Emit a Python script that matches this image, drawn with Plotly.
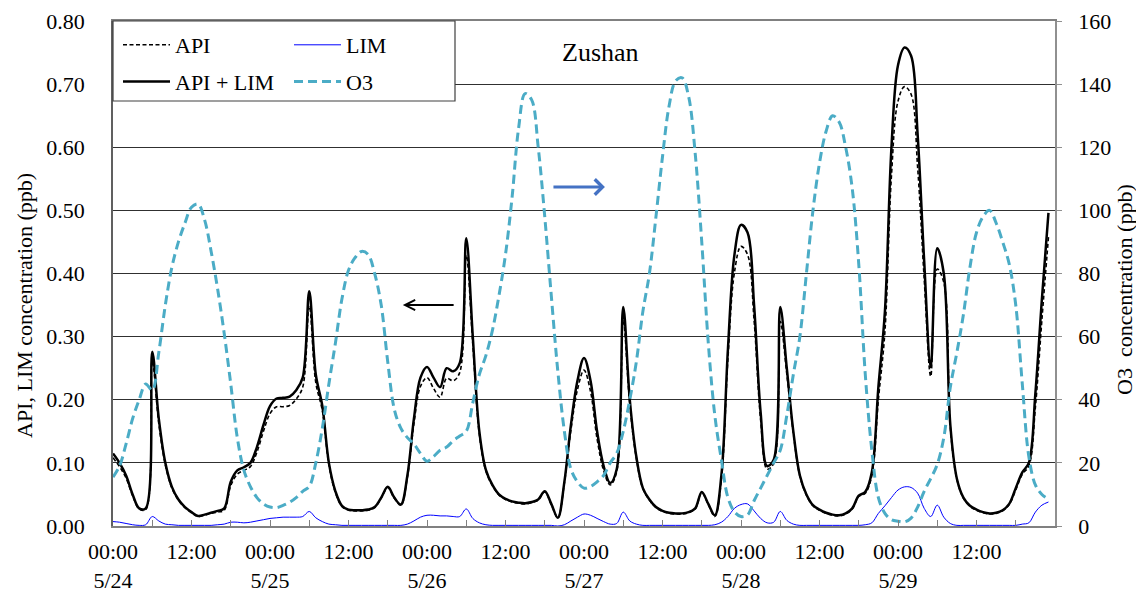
import plotly.graph_objects as go

# hours since 5/24 00:00 (hourly samples)
HOURS = list(range(144))

API_LIM = [0.115, 0.100, 0.080, 0.050, 0.028, 0.028, 0.276, 0.170, 0.100, 0.062,
           0.042, 0.030, 0.022, 0.016, 0.018, 0.021, 0.024, 0.028, 0.070, 0.088,
           0.093, 0.100, 0.125, 0.160, 0.190, 0.202, 0.203, 0.205, 0.215, 0.235,
           0.372, 0.240, 0.190, 0.100, 0.055, 0.032, 0.026, 0.025, 0.025, 0.026,
           0.030, 0.045, 0.062, 0.045, 0.034, 0.080, 0.170, 0.235, 0.252, 0.235,
           0.220, 0.250, 0.245, 0.258, 0.456, 0.300, 0.150, 0.089, 0.065, 0.050,
           0.043, 0.039, 0.037, 0.036, 0.038, 0.042, 0.055, 0.035, 0.013, 0.070,
           0.160, 0.230, 0.266, 0.230, 0.150, 0.095, 0.068, 0.090, 0.347, 0.200,
           0.110, 0.060, 0.042, 0.030, 0.024, 0.021, 0.020, 0.020, 0.022, 0.028,
           0.054, 0.035, 0.017, 0.080, 0.280, 0.430, 0.477, 0.465, 0.350, 0.180,
           0.095, 0.105, 0.347, 0.250, 0.150, 0.080, 0.050, 0.033, 0.026, 0.021,
           0.018, 0.017, 0.020, 0.028, 0.048, 0.054, 0.085, 0.220, 0.340, 0.600,
           0.730, 0.758, 0.745, 0.620, 0.420, 0.252, 0.440, 0.400, 0.160, 0.075,
           0.045, 0.032, 0.026, 0.022, 0.020, 0.021, 0.025, 0.035, 0.060, 0.085,
           0.100, 0.210, 0.360, 0.496]

API = [0.108, 0.094, 0.076, 0.048, 0.027, 0.026, 0.261, 0.162, 0.097, 0.060,
       0.041, 0.029, 0.021, 0.015, 0.017, 0.020, 0.022, 0.025, 0.064, 0.082,
       0.088, 0.094, 0.117, 0.150, 0.178, 0.189, 0.189, 0.191, 0.201, 0.220,
       0.349, 0.227, 0.183, 0.097, 0.053, 0.031, 0.025, 0.024, 0.024, 0.025,
       0.029, 0.044, 0.061, 0.044, 0.033, 0.077, 0.162, 0.221, 0.235, 0.218,
       0.204, 0.234, 0.230, 0.243, 0.429, 0.288, 0.145, 0.087, 0.064, 0.049,
       0.042, 0.038, 0.036, 0.035, 0.037, 0.041, 0.054, 0.034, 0.013, 0.068,
       0.152, 0.216, 0.247, 0.213, 0.138, 0.088, 0.065, 0.086, 0.325, 0.192,
       0.107, 0.059, 0.041, 0.029, 0.023, 0.020, 0.019, 0.019, 0.021, 0.027,
       0.053, 0.034, 0.015, 0.074, 0.265, 0.402, 0.443, 0.430, 0.326, 0.168,
       0.090, 0.099, 0.324, 0.241, 0.147, 0.079, 0.049, 0.032, 0.025, 0.020,
       0.017, 0.016, 0.019, 0.027, 0.047, 0.052, 0.080, 0.200, 0.308, 0.555,
       0.673, 0.696, 0.684, 0.568, 0.392, 0.237, 0.407, 0.386, 0.156, 0.074,
       0.044, 0.031, 0.025, 0.021, 0.019, 0.020, 0.024, 0.034, 0.057, 0.082,
       0.095, 0.188, 0.327, 0.458]

LIM = [0.007, 0.006, 0.004, 0.002, 0.001, 0.002, 0.015, 0.008, 0.003, 0.002,
       0.001, 0.001, 0.001, 0.001, 0.001, 0.001, 0.002, 0.003, 0.006, 0.006,
       0.005, 0.006, 0.008, 0.010, 0.012, 0.013, 0.014, 0.014, 0.014, 0.015,
       0.023, 0.013, 0.007, 0.003, 0.002, 0.001, 0.001, 0.001, 0.001, 0.001,
       0.001, 0.001, 0.001, 0.001, 0.001, 0.003, 0.008, 0.014, 0.017, 0.017,
       0.016, 0.016, 0.015, 0.015, 0.027, 0.012, 0.005, 0.002, 0.001, 0.001,
       0.001, 0.001, 0.001, 0.001, 0.001, 0.001, 0.001, 0.001, 0.000, 0.002,
       0.008, 0.014, 0.019, 0.017, 0.012, 0.007, 0.003, 0.004, 0.022, 0.008,
       0.003, 0.001, 0.001, 0.001, 0.001, 0.001, 0.001, 0.001, 0.001, 0.001,
       0.001, 0.001, 0.002, 0.006, 0.015, 0.028, 0.034, 0.035, 0.024, 0.012,
       0.005, 0.006, 0.023, 0.009, 0.003, 0.001, 0.001, 0.001, 0.001, 0.001,
       0.001, 0.001, 0.001, 0.001, 0.001, 0.002, 0.005, 0.020, 0.032, 0.045,
       0.057, 0.062, 0.061, 0.052, 0.028, 0.015, 0.033, 0.014, 0.004, 0.001,
       0.001, 0.001, 0.001, 0.001, 0.001, 0.001, 0.001, 0.001, 0.001, 0.003,
       0.005, 0.022, 0.033, 0.038]

O3 = [15.5, 19, 26, 34, 40, 45, 43, 55, 70, 82,
      90, 96, 101, 102, 97, 87, 75, 61, 45, 28,
      17.7, 12.5, 9, 7, 6, 5.8, 6.5, 7.5, 9, 11,
      12.5, 20, 31, 45, 58, 72, 81, 85, 87, 86,
      80, 70, 52, 37, 31, 28, 26, 23, 20.5, 22,
      24, 25, 27, 28.5, 30, 39, 48, 54, 62, 73,
      86, 104, 126, 137, 135, 120, 98, 73, 49, 30,
      18, 14, 12, 12.5, 14, 16, 20, 23, 30, 40,
      52, 68, 80, 98, 117, 133, 141, 142, 136, 118,
      90, 58, 35, 21, 9, 4.5, 3, 3.5, 8, 12,
      16, 20, 24, 35, 48, 60, 80, 100, 115, 125,
      130, 128, 120, 107, 83, 48, 24, 9, 4, 2,
      1.5, 1.3, 2.5, 6, 11, 15, 19.5, 28, 44, 55,
      67, 82, 93, 98, 100, 96, 90, 83, 70, 45,
      22, 13, 10, 8.5]

TICK_HOURS = list(range(0, 145, 6))
TICK_TEXT = ["00:00<br>5/24", "", "12:00", "",
             "00:00<br>5/25", "", "12:00", "",
             "00:00<br>5/26", "", "12:00", "",
             "00:00<br>5/27", "", "12:00", "",
             "00:00<br>5/28", "", "12:00", "",
             "00:00<br>5/29", "", "12:00", "", ""]
LEFT_TICKS = [0.0, 0.1, 0.2, 0.3, 0.4, 0.5, 0.6, 0.7, 0.8]
RIGHT_TICKS = [0, 20, 40, 60, 80, 100, 120, 140, 160]

FONT = "Liberation Serif"
FS = 22
TEAL = "#4BACC6"

fig = go.Figure()
fig.add_trace(go.Scatter(x=HOURS, y=API, name="API", mode="lines", legendgroup="a",
                         line=dict(color="black", width=1.6, dash="4px,2.5px", shape="spline"),
                         legend="legend"))
fig.add_trace(go.Scatter(x=HOURS, y=API_LIM, name="API + LIM", mode="lines", legendgroup="b",
                         line=dict(color="black", width=2.5, shape="spline"),
                         legend="legend"))
fig.add_trace(go.Scatter(x=HOURS, y=LIM, name="LIM", mode="lines", legendgroup="c",
                         line=dict(color="#0000FF", width=1, shape="spline"),
                         legend="legend2"))
fig.add_trace(go.Scatter(x=HOURS, y=O3, name="O3", mode="lines", yaxis="y2", legendgroup="d",
                         line=dict(color=TEAL, width=3, dash="9px,5px", shape="spline"),
                         legend="legend2"))

# the page body adds an 8px offset; target coordinates are screenshot pixels
OFF = 8
W, H = 1144 - OFF, 592 - OFF
PL, PR, PT, PB = 113, 1055, 21, 526  # plot area in screenshot pixels
L, T = PL - OFF, PT - OFF
R = W - (PR - OFF)
B = H - (PB - OFF)
pw, ph = PR - PL, PB - PT


def px(xp):
    return (xp - PL) / pw


def py(yp):
    return (PB - yp) / ph


fig.update_layout(
    width=W, height=H,
    margin=dict(l=L, r=R, t=T, b=B, pad=0),
    paper_bgcolor="white", plot_bgcolor="white",
    font=dict(family=FONT, size=FS, color="black"),
    xaxis=dict(range=[0, 144], tickmode="array", tickvals=TICK_HOURS, ticktext=TICK_TEXT,
               ticks="inside", ticklen=6, tickcolor="#808080", tickwidth=1,
               showgrid=False, zeroline=False, showline=True, linecolor="#808080",
               linewidth=1.5, mirror=True, ticklabelstandoff=5, automargin=False,
               tickfont=dict(family=FONT, size=FS)),
    yaxis=dict(range=[0, 0.8], tickmode="array", tickvals=LEFT_TICKS, tickformat=".2f",
               showgrid=True, gridcolor="#303030", gridwidth=1, zeroline=False,
               showline=True, linecolor="#606060", linewidth=1.5, ticks="",
               ticklabelstandoff=22, automargin=False, tickfont=dict(family=FONT, size=FS)),
    yaxis2=dict(range=[0, 160], tickmode="array", tickvals=RIGHT_TICKS, overlaying="y",
                side="right", showgrid=False, zeroline=False, showline=True,
                linecolor="#909090", linewidth=1.5, ticks="outside", ticklen=5,
                tickcolor="#909090", ticklabelstandoff=12, automargin=False,
                tickfont=dict(family=FONT, size=FS)),
    legend=dict(x=px(118), y=py(24), xanchor="left", yanchor="top",
                bgcolor="rgba(0,0,0,0)", borderwidth=0, tracegroupgap=5,
                traceorder="grouped", itemwidth=47,
                font=dict(family=FONT, size=FS)),
    legend2=dict(x=px(289), y=py(24), xanchor="left", yanchor="top",
                 bgcolor="rgba(0,0,0,0)", borderwidth=0, tracegroupgap=5,
                 traceorder="grouped", itemwidth=47,
                 font=dict(family=FONT, size=FS)),
    shapes=[dict(type="rect", xref="paper", yref="paper", x0=0, x1=px(455),
                 y0=py(101), y1=1, line=dict(color="#404040", width=1.2),
                 fillcolor="white", layer="above")],
    annotations=[
        dict(text="Zushan", xref="paper", yref="paper", x=px(600), y=py(52),
             xanchor="center", yanchor="middle", showarrow=False,
             font=dict(family=FONT, size=26)),
        dict(text="API, LIM concentration (ppb)", xref="paper", yref="paper",
             x=px(24), y=py(306), xanchor="center", yanchor="middle",
             textangle=-90, showarrow=False, font=dict(family=FONT, size=FS)),
        dict(text="O3  concentration (ppb)", xref="paper", yref="paper",
             x=px(1124), y=py(290), xanchor="center", yanchor="middle",
             textangle=-90, showarrow=False, font=dict(family=FONT, size=FS)),
        dict(text="", xref="x", yref="y", axref="x", ayref="y",
             x=75.2, y=0.537, ax=67.1, ay=0.537, showarrow=True,
             arrowhead=4, arrowsize=1, arrowwidth=3, arrowcolor="#4472C4"),
        dict(text="", xref="x", yref="y", axref="x", ayref="y",
             x=44.3, y=0.35, ax=52.3, ay=0.35, showarrow=True,
             arrowhead=5, arrowsize=1, arrowwidth=2, arrowcolor="black"),
    ],
)

fig.write_html("out.html")
